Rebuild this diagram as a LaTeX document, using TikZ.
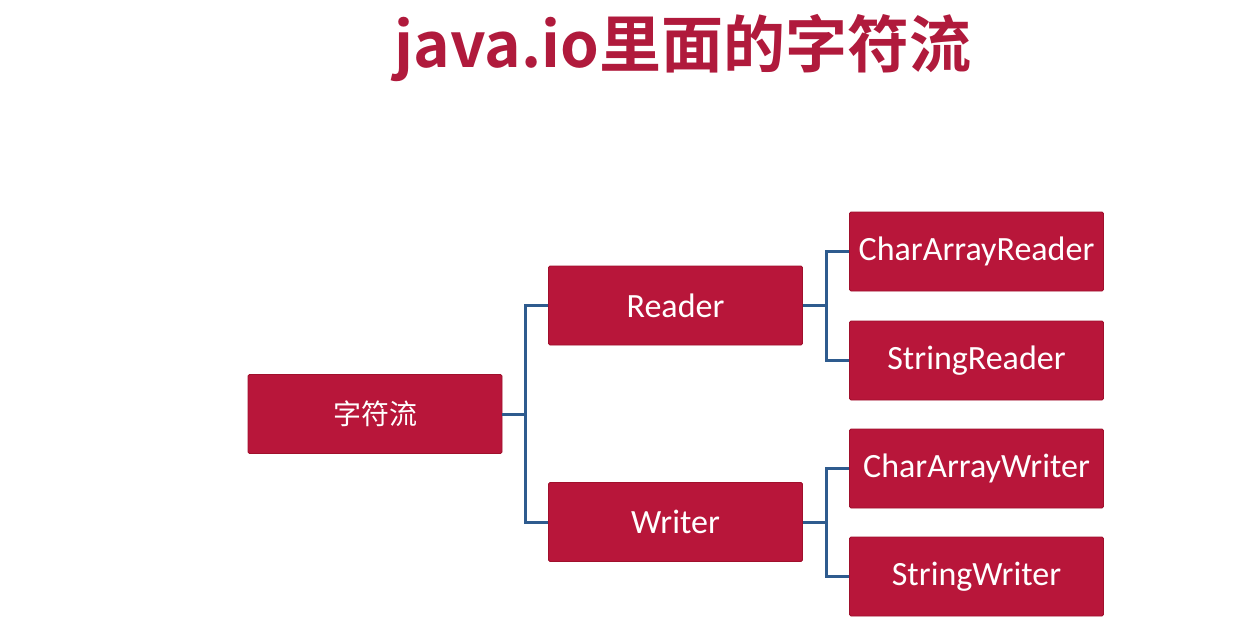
\documentclass[tikz,border=0pt]{standalone}
\usepackage{fontspec}
\setmainfont{Carlito}
\newfontfamily\cjk{Noto Sans CJK SC}
\newfontfamily\cjkbold{Noto Sans CJK SC Bold}
\definecolor{boxred}{HTML}{B8163A}
\definecolor{boxedge}{HTML}{A0102C}
\definecolor{titlered}{HTML}{B01A3C}
\definecolor{linkblue}{HTML}{2E5B8E}
\tikzset{
  box/.style={draw=boxedge, line width=0.8pt, fill=boxred, rounded corners=1.5pt,
    minimum width=254pt, minimum height=79pt, text=white, inner sep=0pt,
    font=\fontsize{34}{40}\selectfont},
  link/.style={draw=linkblue, line width=3pt}
}
\begin{document}
\begin{tikzpicture}[x=1pt,y=-1pt]
\useasboundingbox[fill=white] (0,0) rectangle (1259,627);
\node[text=titlered, inner sep=0pt, font=\cjkbold\fontsize{62}{70}\selectfont] (title) at (683,48) {java.io里面的字符流};
\node[box] (zf) at (375,414) {\cjk\fontsize{28}{34}\selectfont 字符流};
\node[box] (reader) at (675.5,305.5) {Reader};
\node[box] (writer) at (675.5,522) {Writer};
\node[box] (car) at (976.5,251.5) {CharArrayReader};
\node[box] (sr) at (976.5,360.5) {StringReader};
\node[box] (caw) at (976.5,468.5) {CharArrayWriter};
\node[box] (sw) at (976.5,576.5) {StringWriter};
\draw[link] (zf.east) -- ++(23,0) |- (reader.west);
\draw[link] (zf.east) -- ++(23,0) |- (writer.west);
\draw[link] (reader.east) -- ++(23.5,0) |- (car.west);
\draw[link] (reader.east) -- ++(23.5,0) |- (sr.west);
\draw[link] (writer.east) -- ++(23.5,0) |- (caw.west);
\draw[link] (writer.east) -- ++(23.5,0) |- (sw.west);
\end{tikzpicture}
\end{document}
